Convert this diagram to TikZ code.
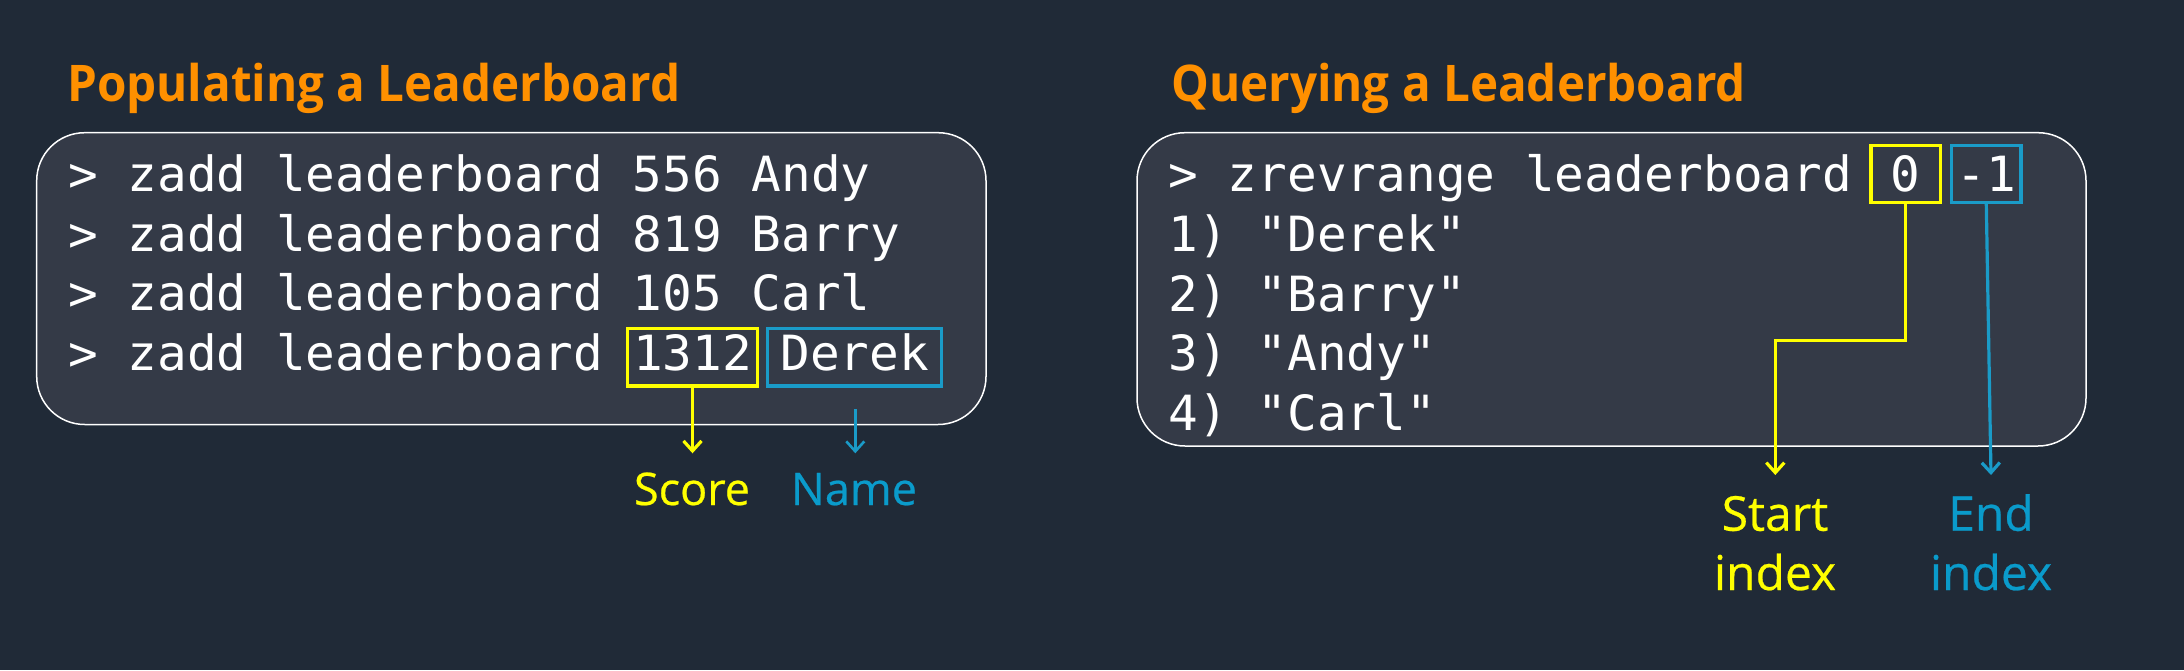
\documentclass[tikz,border=0pt]{standalone}
\usepackage{fontspec}
\usetikzlibrary{arrows.meta}
\newfontfamily\codefont[FakeStretch=1.018]{DejaVu Sans Mono}
\newfontfamily\titlefont[FakeStretch=0.942]{Open Sans}
\newfontfamily\labelfont[FakeBold=0.5]{Open Sans}
\definecolor{bgcol}{HTML}{202A37}
\definecolor{panelcol}{HTML}{343A47}
\definecolor{awsorange}{HTML}{FF9000}
\definecolor{hlyellow}{HTML}{FFFF00}
\definecolor{hlblue}{HTML}{1A9BC8}
\definecolor{lblblue}{HTML}{0A9BCB}
\tikzset{
  panel/.style={draw=white, line width=1.5pt, fill=panelcol, rounded corners=48pt},
  codefnt/.style={text=white, font=\codefont\fontsize{48.5}{58}\selectfont},
  codeline/.style={codefnt, anchor=base west, inner sep=0pt},
  titletext/.style={anchor=base west, inner sep=0pt, text=awsorange,
    font=\titlefont\bfseries\fontsize{50.5}{60}\selectfont},
  hlbox/.style={codefnt, draw, line width=3.2pt, inner sep=0pt, anchor=base},
  conn/.style={line width=3.2pt, -{Straight Barb[length=10pt,width=18pt]}},
  lblsmall/.style={anchor=base, inner sep=0pt, font=\labelfont\fontsize{45}{59}\selectfont},
  lblbig/.style={anchor=base, inner sep=0pt, align=center, font=\labelfont\fontsize{48}{59.3}\selectfont},
}
\begin{document}
\begin{tikzpicture}[x=1pt,y=-1pt]
\useasboundingbox (0,0) rectangle (2184,670);
\fill[bgcol] (0,0) rectangle (2184,670);

% ---------- left: populating ----------
\node[titletext] (ltitle) at (67,101.7) {Populating a Leaderboard};
\draw[panel] (36.7,132.7) rectangle (986,424.5);
\node[codeline] (la) at (68,191.5) {> zadd leaderboard 556 Andy};
\node[codeline] (lb) at (68,251.2) {> zadd leaderboard 819 Barry};
\node[codeline] (lc) at (68,310.9) {> zadd leaderboard 105 Carl};
\node[codeline] (ld) at (68,370.6) {> zadd leaderboard};
\node[hlbox, draw=hlyellow, minimum width=130.4pt, text height=42.5pt, text depth=15.3pt] (scorebox) at (692.5,370.6) {1312};
\node[hlbox, draw=hlblue, minimum width=174.1pt, text height=42.5pt, text depth=15.3pt] (namebox) at (854.7,370.6) {Derek};
\coordinate (scoretip) at (692.5,453.3);
\coordinate (nametail) at (855.3,409.3);
\coordinate (nametip) at (855.3,453.3);
\draw[conn, hlyellow] (scorebox.south) -- (scoretip);
\draw[conn, hlblue, line width=2.6pt] (nametail) -- (nametip);
\node[lblsmall, text=hlyellow] (scorelbl) at (692,505) {Score};
\node[lblsmall, text=lblblue] (namelbl) at (854,505) {Name};

% ---------- right: querying ----------
\node[titletext] (rtitle) at (1171,101.7) {Querying a Leaderboard};
\draw[panel] (1137,132.7) rectangle (2086,446);
\node[codeline] (ra) at (1168.3,191.7) {> zrevrange leaderboard};
\node[codeline] (rb) at (1168.3,251.4) {1) "Derek"};
\node[codeline] (rc) at (1168.3,311.1) {2) "Barry"};
\node[codeline] (rd) at (1168.3,370.8) {3) "Andy"};
\node[codeline] (re) at (1168.3,430.5) {4) "Carl"};
\node[hlbox, draw=hlyellow, minimum width=69.2pt, text height=46.3pt, text depth=10.9pt] (startbox) at (1905.5,191.7) {0};
\node[hlbox, draw=hlblue, minimum width=69.5pt, text height=46.3pt, text depth=10.9pt] (endbox) at (1986.3,191.7) {-1};
\coordinate (startelbow) at (1775.3,340.7);
\coordinate (starttip) at (1775.3,475);
\coordinate (endtip) at (1991,475);
\draw[conn, hlyellow] (startbox.south) |- (startelbow) -- (starttip);
\draw[conn, hlblue] (endbox.south) -- (endtip);
\node[lblbig, text=hlyellow] (startlbl) at (1775,590) {Start\\index};
\node[lblbig, text=lblblue] (endlbl) at (1991,590) {End\\index};
\end{tikzpicture}
\end{document}
